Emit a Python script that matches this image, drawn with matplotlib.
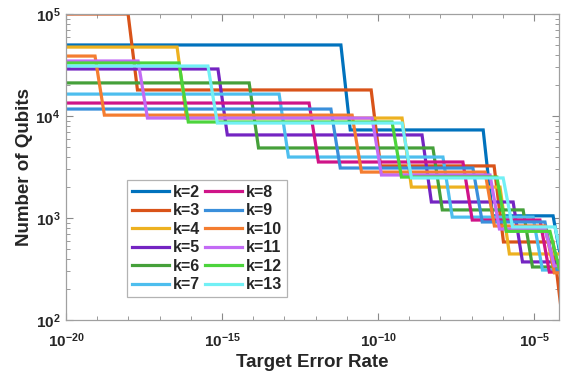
import numpy as np
import matplotlib
matplotlib.use("Agg")
import matplotlib.pyplot as plt
from matplotlib.ticker import LogLocator, NullFormatter, FixedLocator, FixedFormatter

plt.rcParams['font.family'] = ['Liberation Sans', 'DejaVu Sans']
plt.rcParams['mathtext.fontset'] = 'custom'
plt.rcParams['mathtext.rm'] = 'Liberation Sans:bold'
plt.rcParams['mathtext.bf'] = 'Liberation Sans:bold'
plt.rcParams['mathtext.it'] = 'Liberation Sans:bold'

# ---- data ----
k_labels = ["k=2", "k=3", "k=4", "k=5", "k=6", "k=7",
            "k=8", "k=9", "k=10", "k=11", "k=12", "k=13"]

# qubit counts on each plateau (left to right)
qubits_k2 = [49700, 7300, 1050, 330]
qubits_k3 = [100000, 18000, 3240, 582, 100]
qubits_k4 = [47400, 9550, 2010, 444]
qubits_k5 = [28900, 6520, 1435, 371]
qubits_k6 = [21100, 4860, 1200, 331]
qubits_k7 = [16400, 3960, 1020, 309]
qubits_k8 = [13400, 3540, 955, 295]
qubits_k9 = [11700, 3090, 914, 309]
qubits_k10 = [38700, 10200, 2820, 835, 290]
qubits_k11 = [34600, 9550, 2640, 780, 339]
qubits_k12 = [33100, 8730, 2520, 740, 320]
qubits_k13 = [30900, 8530, 2470, 817, 330]

# log10 of the target error rate where each plateau ends
drop_k2 = [-11.19, -6.63, -4.39]
drop_k3 = [-18.01, -10.22, -6.28, -4.39]
drop_k4 = [-16.44, -9.23, -6.09]
drop_k5 = [-15.13, -8.59, -5.67]
drop_k6 = [-14.13, -8.24, -5.35]
drop_k7 = [-13.17, -7.92, -5.03]
drop_k8 = [-12.21, -7.28, -4.81]
drop_k9 = [-11.51, -6.96, -4.65]
drop_k10 = [-19.07, -10.83, -6.57, -4.65]
drop_k11 = [-17.69, -10.19, -6.41, -4.65]
drop_k12 = [-16.38, -9.55, -6.19, -4.49]
drop_k13 = [-15.45, -9.23, -5.99, -4.33]

x_min_exp = -20.0
x_max_exp = -4.2
step_width = 0.3  # decades over which each drop happens

colors = ["#0072BD", "#D95319", "#EDB120", "#7424C2", "#45A03A", "#4DBEEE",
          "#CF1488", "#3A8FDB", "#F47D30", "#C36BF5", "#4CD43C", "#72F0F5"]

all_q = [qubits_k2, qubits_k3, qubits_k4, qubits_k5, qubits_k6, qubits_k7,
         qubits_k8, qubits_k9, qubits_k10, qubits_k11, qubits_k12, qubits_k13]
all_d = [drop_k2, drop_k3, drop_k4, drop_k5, drop_k6, drop_k7,
         drop_k8, drop_k9, drop_k10, drop_k11, drop_k12, drop_k13]


def build(q, d):
    xs = [x_min_exp - 0.5]
    ys = [q[0]]
    for i, e in enumerate(d):
        xs += [e, e + step_width]
        ys += [q[i], q[i + 1]]
    xs.append(x_max_exp + 0.5)
    ys.append(q[-1])
    return 10.0 ** np.array(xs), np.array(ys, dtype=float)


fig = plt.figure(figsize=(5.62, 3.75), dpi=100)
ax = fig.add_axes([66 / 562, 1 - 320 / 375, (559 - 66) / 562, (320 - 14) / 375])

for q, d, c, lab in zip(all_q, all_d, colors, k_labels):
    x, y = build(q, d)
    ax.plot(x, y, color=c, lw=2.3, label=lab, solid_joinstyle='miter')

ax.set_xscale('log')
ax.set_yscale('log')
ax.set_xlim(10 ** x_min_exp, 10 ** x_max_exp)
ax.set_ylim(1e2, 1e5)

xt = [1e-20, 1e-15, 1e-10, 1e-5]
ax.xaxis.set_major_locator(FixedLocator(xt))
ax.xaxis.set_major_formatter(FixedFormatter([r'$\mathbf{10^{-20}}$', r'$\mathbf{10^{-15}}$',
                                             r'$\mathbf{10^{-10}}$', r'$\mathbf{10^{-5}}$']))
ax.xaxis.set_minor_locator(FixedLocator([10.0 ** e for e in range(-20, -3)]))
ax.xaxis.set_minor_formatter(NullFormatter())

yt = [1e2, 1e3, 1e4, 1e5]
ax.yaxis.set_major_locator(FixedLocator(yt))
ax.yaxis.set_major_formatter(FixedFormatter([r'$\mathbf{10^{2}}$', r'$\mathbf{10^{3}}$',
                                             r'$\mathbf{10^{4}}$', r'$\mathbf{10^{5}}$']))
ax.yaxis.set_minor_locator(LogLocator(base=10, subs=np.arange(2, 10), numticks=20))
ax.yaxis.set_minor_formatter(NullFormatter())

ax.tick_params(which='both', direction='in', top=True, right=True, color='#8a8a8a',
               labelsize=11, labelcolor='#262626')
ax.tick_params(axis='x', which='major', pad=8)
ax.tick_params(axis='y', which='major', pad=4)
ax.tick_params(which='major', length=5, width=0.8)
ax.tick_params(which='minor', length=3, width=0.6)
for s in ax.spines.values():
    s.set_color('#a0a0a0')
    s.set_linewidth(0.9)

ax.set_xlabel('Target Error Rate', fontsize=13.5, fontweight='bold', color='#262626', labelpad=3)
ax.set_ylabel('Number of Qubits', fontsize=13.5, fontweight='bold', color='#262626', labelpad=2)

leg = ax.legend(ncol=2, loc='upper left', bbox_to_anchor=((127 - 66) / 493, (320 - 180) / 306),
                prop={'weight': 'bold', 'size': 11.5}, frameon=True, fancybox=False,
                handlelength=2.3, handletextpad=0.25, columnspacing=0.35, labelspacing=0.22,
                borderpad=0.3, borderaxespad=0)
leg.get_frame().set_edgecolor('#a0a0a0')
leg.get_frame().set_linewidth(0.9)
for t in leg.get_texts():
    t.set_color('#262626')

fig.savefig('out.png', dpi=100)
